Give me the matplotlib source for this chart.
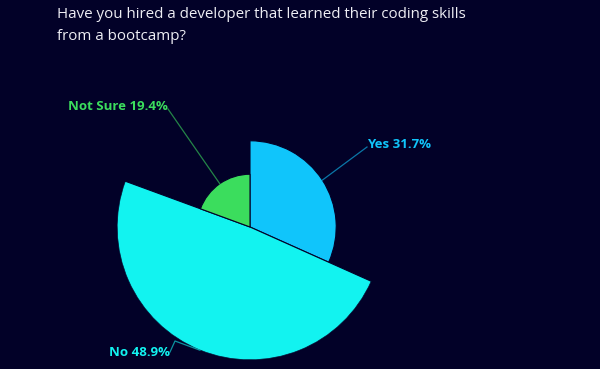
"""Rose-style pie: bootcamp hiring survey."""

import numpy as np
import matplotlib
matplotlib.use("Agg")
import matplotlib.pyplot as plt

# data
labels = ["Yes", "No", "Not Sure"]
values = [31.7, 48.9, 19.4]
colors = ["#10c5fb", "#12f3f0", "#3bdd5d"]
title = "Have you hired a developer that learned their coding skills\nfrom a bootcamp?"

BG = "#020128"
W, H = 600, 369

plt.rcParams["font.family"] = ["Open Sans", "DejaVu Sans"]

fig = plt.figure(figsize=(W / 100, H / 100), dpi=100, facecolor=BG)

# polar axes: centre at (250, 227) px, largest radius 133 px
cx, cy, rmax_px = 250, 227, 133
ax = fig.add_axes([(cx - rmax_px) / W, (H - cy - rmax_px) / H,
                   2 * rmax_px / W, 2 * rmax_px / H], projection="polar")
ax.set_theta_offset(np.pi / 2)
ax.set_theta_direction(-1)
ax.set_ylim(0, max(values))
ax.set_facecolor("none")
ax.axis("off")

total = sum(values)
widths = [2 * np.pi * v / total for v in values]
starts = np.concatenate([[0], np.cumsum(widths)[:-1]])
ax.bar(starts, values, width=widths, align="edge", color=colors,
       edgecolor=BG, linewidth=0.8)

# overlay in pixel coordinates for labels and leader lines
ov = fig.add_axes([0, 0, 1, 1])
ov.set_xlim(0, W)
ov.set_ylim(H, 0)
ov.axis("off")
ov.patch.set_alpha(0)

ov.text(57, 6.5, title, color="#eeeef4", fontsize=10.9,
        ha="left", va="top", linespacing=1.68)

to_px = ov.transData.inverted()
label_pos = {"Yes": (367, 145), "No": (170, 352), "Not Sure": (168, 107)}
elbows = {"No": (175, 341)}
for lab, v, c, s, w in zip(labels, values, colors, starts, widths):
    anchor = to_px.transform(ax.transData.transform((s + w / 2, v)))
    tx, ty = label_pos[lab]
    ha = "left" if lab == "Yes" else "right"
    ov.text(tx, ty, f"{lab} {v}%", color=c, fontsize=9.5, fontweight="bold",
            ha=ha, va="center")
    pts = [anchor]
    if lab in elbows:
        pts.append(elbows[lab])
    pts.append((tx, ty + 2 if lab != "No" else ty))
    pts = np.array(pts)
    ov.plot(pts[:, 0], pts[:, 1], color=c, alpha=0.6, lw=0.9)

fig.savefig("out.png", dpi=100, facecolor=BG)
